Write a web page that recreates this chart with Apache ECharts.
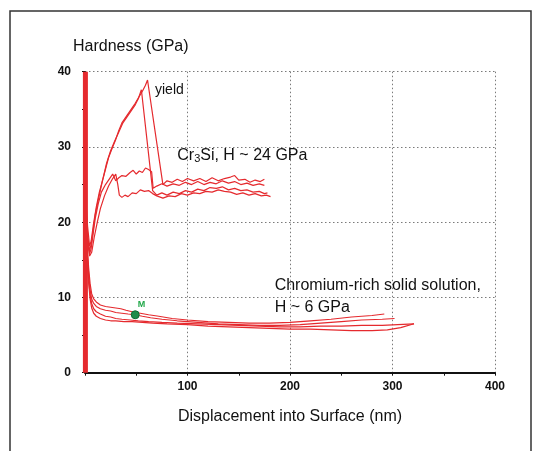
<!DOCTYPE html>
<html>
<head>
<meta charset="utf-8">
<script src="https://cdn.jsdelivr.net/npm/echarts@6/dist/echarts.min.js"></script>
<style>html,body{margin:0;padding:0;background:#fff;}#c{width:537px;height:451px;}</style>
</head>
<body>
<div id="c"></div>
<script>
// ---- data ----
const xTicks = [0, 100, 200, 300, 400];
const yTicks = [0, 10, 20, 30, 40];
const indentBar = [[0.4, 0], [0.4, 40]];
const cr3siYieldHigh = [[0.8,23],[2.5,19.5],[4.5,16.8],[6,17.5],[8,19.5],[11,22],[14,24],[18,26],[23,28.6],[27,30],[30,31],[33,32.2],[36,33.2],[40,34],[43,34.6],[46,35.2],[49,35.8],[52,36.5],[56,37.4],[59,38.2],[61,38.9],[76,25.0],[80,25.5],[85,25.3],[90,25.7],[95,25.4],[100,25.8],[106,25.5],[112,25.8],[118,25.4],[124,25.9],[130,25.5],[136,25.8],[142,26.0],[146,26.2],[150,25.6],[156,25.7],[161,25.3],[166,25.6],[171,25.4],[175,25.7]];
const cr3siYieldLow = [[0.8,22],[2.5,18.5],[4.2,16.2],[6,17],[8,19],[10,21],[13,23],[17,25.5],[21,27.8],[25,29.5],[29,30.8],[33,32],[37,33.2],[41,34],[45,34.8],[49,35.6],[52,36.4],[55,37.6],[66,24.2],[70,23.6],[75,23.9],[80,23.6],[86,24.0],[92,23.8],[98,24.2],[104,24.0],[110,24.4],[116,24.2],[122,24.6],[128,24.5],[134,24.7],[140,24.3],[146,24.5],[152,24.2],[158,24.3],[164,24.0],[170,24.1],[175,23.8],[178,23.9]];
const cr3siPlateauHigh = [[0.8,21],[2.5,18],[4.5,15.8],[6,16.5],[8,18.5],[10,20.5],[13,22.5],[16,24],[20,25],[24,25.8],[27,26.4],[30,25.5],[33,25.9],[36,26.2],[40,26.1],[44,26.6],[47,26.9],[50,26.4],[53,26.8],[56,26.6],[59,27.2],[62,27.0],[65,26.7],[66.5,24.5],[70,24.8],[75,25.1],[80,24.8],[86,25.1],[92,24.9],[98,25.3],[104,25.0],[110,25.4],[116,25.0],[122,25.3],[128,25.1],[134,25.5],[140,25.2],[146,25.4],[152,25.0],[158,25.2],[164,24.9],[170,25.1],[175,24.9]];
const cr3siPlateauLow = [[0.8,20],[2.5,17.5],[4.5,15.5],[6.5,16],[9,18],[12,20],[15,21.8],[19,23.5],[23,24.8],[27,25.8],[30,26.4],[32,25],[33.5,23.6],[36,23.3],[39,23.6],[42,23.4],[46,23.9],[50,23.8],[54,24.3],[58,24.1],[62,24.2],[66,23.8],[70,23.5],[76,23.2],[82,23.5],[88,23.4],[94,23.8],[100,23.6],[106,23.9],[112,23.8],[118,24.1],[124,24.0],[130,24.3],[136,24.1],[142,24.0],[148,23.7],[154,23.9],[160,23.6],[166,23.8],[172,23.5],[177,23.6],[181,23.4]];
const crRich1 = [[0.8,21],[2,17.5],[3.5,14],[5,11.8],[6.5,10.5],[8.5,9.8],[11,9.4],[15,9.0],[20,8.8],[25,8.7],[30,8.6],[35,8.5],[40,8.3],[46,8.1],[54,7.9],[62,7.7],[72,7.5],[85,7.2],[100,7.0],[120,6.8],[140,6.7],[160,6.6],[180,6.6],[200,6.7],[220,6.9],[240,7.1],[260,7.4],[280,7.6],[292,7.8]];
const crRich2 = [[0.8,20],[2,16.5],[3.5,13.2],[5,11],[6.5,9.8],[8.5,9.2],[11,8.8],[15,8.5],[20,8.3],[25,8.2],[30,8.0],[36,7.9],[42,7.8],[48.5,7.7],[56,7.5],[64,7.3],[75,7.1],[90,6.9],[110,6.7],[130,6.5],[150,6.4],[170,6.3],[190,6.3],[210,6.4],[230,6.6],[250,6.8],[270,7.0],[290,7.1],[302,7.2]];
const crRich3 = [[0.8,19],[2,15.8],[3.5,12.5],[5,10.3],[6.5,9.2],[8.5,8.5],[11,8.1],[15,7.8],[20,7.5],[25,7.4],[30,7.2],[36,7.1],[44,7.0],[52,6.9],[62,6.8],[75,6.7],[90,6.6],[110,6.5],[130,6.4],[150,6.3],[170,6.2],[190,6.1],[210,6.1],[230,6.2],[250,6.2],[270,6.3],[290,6.3],[305,6.4],[321,6.5]];
const crRich4 = [[0.8,18],[2,15],[3.5,12],[5,9.8],[6.5,8.6],[8.5,7.9],[11,7.5],[15,7.2],[20,7.0],[25,6.9],[30,6.9],[38,6.8],[46,6.8],[56,6.7],[66,6.6],[80,6.5],[100,6.4],[120,6.2],[140,6.1],[160,6.0],[180,5.9],[200,5.8],[220,5.8],[240,5.7],[260,5.6],[280,5.6],[295,5.7],[308,6.0],[321,6.5]];
const markerM = [[49, 7.7]];
const annotations = [
  {pos: [68.3, 37.5], text: 'yield', size: 14},
  {pos: [90, 28.9], text: '{a|Cr}{s|3}{a|Si, H ~ 24 GPa}', size: 16},
  {pos: [185, 11.6], text: 'Chromium-rich solid solution,', size: 16},
  {pos: [185, 8.6], text: 'H ~ 6 GPa', size: 16}
];

// ---- chart ----
const RED = '#e52a2e';
const INK = '#111111';
const FONT = 'Liberation Sans, Arial, sans-serif';
const chart = echarts.init(document.getElementById('c'), null, {renderer: 'canvas'});
const curves = [cr3siYieldHigh, cr3siYieldLow, cr3siPlateauHigh, cr3siPlateauLow, crRich1, crRich2, crRich3, crRich4];
const series = curves.map(d => ({
  type: 'line', data: d, showSymbol: false, symbol: 'none', smooth: false,
  lineStyle: {color: RED, width: 1.2}, z: 3, animation: false
}));
series.unshift({
  type: 'line', data: indentBar, showSymbol: false, symbol: 'none', clip: false,
  lineStyle: {color: RED, width: 5}, z: 4, animation: false
});
series.push({
  type: 'scatter', data: markerM, symbol: 'circle', symbolSize: 8, z: 6,
  itemStyle: {color: '#1e8c4a', borderColor: '#0f6a34', borderWidth: 1, opacity: 1},
  label: {show: true, formatter: 'M', position: [7, -10], color: '#22a84a', fontSize: 9, fontWeight: 'bold', fontFamily: FONT, opacity: 1},
  animation: false
});
series.push({
  type: 'scatter', symbolSize: 0, z: 7, animation: false, silent: true,
  itemStyle: {opacity: 1},
  data: annotations.map(a => ({
    value: a.pos,
    itemStyle: {opacity: 1},
    label: {show: true, position: 'right', distance: 0, formatter: a.text, fontSize: a.size, color: INK, opacity: 1,
      fontFamily: FONT,
      rich: {a: {fontSize: 16, color: INK, fontFamily: FONT},
             s: {fontSize: 11, color: INK, fontFamily: FONT, verticalAlign: 'bottom', padding: [8, 0, 0, 0]}}}
  }))
});

const gridLine = {show: true, lineStyle: {color: '#7a7a7a', width: 1, type: [1.5, 2.5]}};
chart.setOption({
  backgroundColor: '#ffffff',
  animation: false,
  title: {text: 'Hardness (GPa)', left: 73, top: 39, padding: 0,
    textStyle: {fontSize: 16, fontWeight: 'normal', color: INK, fontFamily: FONT}},
  graphic: [{type: 'rect', shape: {x: 10, y: 11, width: 521, height: 460}, style: {fill: 'none', stroke: '#333', lineWidth: 1.5}, silent: true}],
  grid: {left: 85, right: 42, top: 71.7, bottom: 78.3},
  xAxis: {
    type: 'value', min: xTicks[0], max: xTicks[xTicks.length - 1], interval: 100,
    name: 'Displacement into Surface (nm)', nameLocation: 'middle', nameGap: 36,
    nameTextStyle: {fontSize: 16, color: INK, fontFamily: FONT},
    axisLine: {show: true, onZero: false, lineStyle: {color: INK, width: 2}},
    axisTick: {show: true, length: 3, lineStyle: {color: INK}},
    minorTick: {show: true, splitNumber: 2, length: 3, lineStyle: {color: INK}},
    axisLabel: {margin: 8, fontSize: 12, fontWeight: 'bold', color: INK, fontFamily: FONT,
      formatter: v => (v === 0 ? '' : String(v))},
    splitLine: gridLine
  },
  yAxis: {
    type: 'value', min: yTicks[0], max: yTicks[yTicks.length - 1], interval: 10,
    axisLine: {show: true, onZero: false, lineStyle: {color: INK, width: 1}},
    axisTick: {show: true, length: 3, lineStyle: {color: INK}},
    minorTick: {show: true, splitNumber: 2, length: 3, lineStyle: {color: INK}},
    axisLabel: {margin: 14, fontSize: 12, fontWeight: 'bold', color: INK, fontFamily: FONT},
    splitLine: gridLine
  },
  series: series
});
</script>
</body>
</html>
